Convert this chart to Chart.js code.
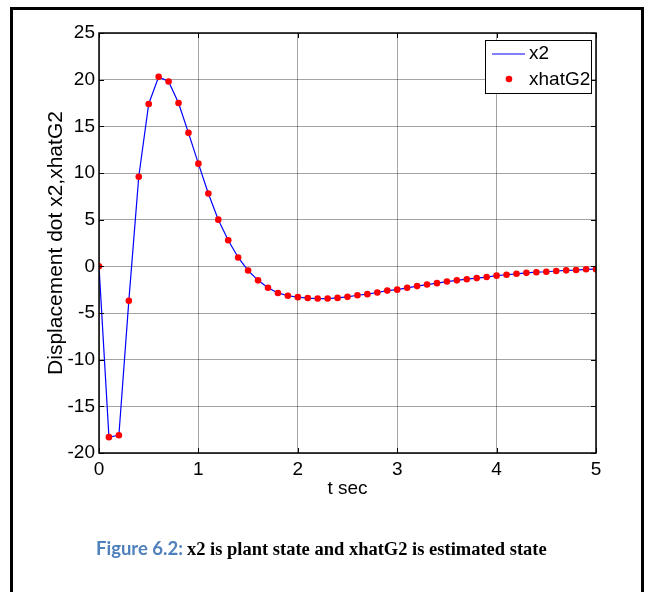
<!DOCTYPE html>
<html>
<head>
<meta charset="utf-8">
<title>x2 and xhatG2</title>
<script src="https://cdn.jsdelivr.net/npm/chart.js@4"></script>
<style>
body{margin:0;background:#fff;}
#frame{position:absolute;left:10px;top:7px;width:634px;height:640px;border:3px solid #000;box-sizing:border-box;}
#canvas{position:absolute;left:0;top:0;}
#caption{position:absolute;left:96px;top:537px;white-space:nowrap;}
#caption .fig{font-family:Lato,"Open Sans",sans-serif;font-weight:bold;font-size:18.5px;color:#4F81BD;}
#caption .txt{font-family:"Liberation Serif","Times New Roman",serif;font-weight:bold;font-size:18.5px;color:#000;}
</style>
</head>
<body>
<div id="frame"></div>
<canvas id="canvas" width="649" height="592"></canvas>
<div id="caption"><span class="fig">Figure 6.2:</span> <span class="txt">x2 is plant state and xhatG2 is estimated state</span></div>
<script>
// time samples (sec)
var tValues = [0,0.1,0.2,0.3,0.4,0.5,0.6,0.7,0.8,0.9,
	1.0,1.1,1.2,1.3,1.4,1.5,1.6,1.7,1.8,1.9,
	2.0,2.1,2.2,2.3,2.4,2.5,2.6,2.7,2.8,2.9,
	3.0,3.1,3.2,3.3,3.4,3.5,3.6,3.7,3.8,3.9,
	4.0,4.1,4.2,4.3,4.4,4.5,4.6,4.7,4.8,4.9,5.0];
// plant state x2
var x2Values = [0,-18.3,-18.1,-3.7,9.6,17.4,20.3,19.8,17.5,14.3,
	11.0,7.8,5.0,2.8,0.95,-0.45,-1.5,-2.3,-2.85,-3.15,
	-3.3,-3.4,-3.45,-3.45,-3.38,-3.27,-3.1,-2.98,-2.8,-2.6,
	-2.5,-2.3,-2.12,-1.95,-1.8,-1.63,-1.5,-1.38,-1.26,-1.15,
	-1.0,-0.9,-0.8,-0.7,-0.63,-0.58,-0.5,-0.43,-0.4,-0.32,-0.3];
// estimated state xhatG2
var xhatG2Values = [0,-18.3,-18.1,-3.7,9.6,17.4,20.3,19.8,17.5,14.3,
	11.0,7.8,5.0,2.8,0.95,-0.45,-1.5,-2.3,-2.85,-3.15,
	-3.3,-3.4,-3.45,-3.45,-3.38,-3.27,-3.1,-2.98,-2.8,-2.6,
	-2.5,-2.3,-2.12,-1.95,-1.8,-1.63,-1.5,-1.38,-1.26,-1.15,
	-1.0,-0.9,-0.8,-0.7,-0.63,-0.58,-0.5,-0.43,-0.4,-0.32,-0.3];
var xTicks = [0,1,2,3,4,5];
var yTicks = [-20,-15,-10,-5,0,5,10,15,20,25];

var fontName = '"Liberation Sans", Arial, sans-serif';
var fontSize = 19;
var lineColor = '#0000ff';
var dotColor = '#ff0000';

function toPoints(xs, ys){
	var pts = new Array();
	for(var i = 0; i < xs.length; i++){
		pts[i] = {x:xs[i], y:ys[i]};
	}
	return pts;
}

// box round the axes plus matlab style inward ticks
var axesBox = {
	id:'axesBox',
	afterDatasetsDraw:function(chart){
		var ctx = chart.ctx;
		var a = chart.chartArea;
		var xs = chart.scales.x;
		var ys = chart.scales.y;
		ctx.save();
		ctx.strokeStyle = '#000';
		ctx.lineWidth = 1;
		ctx.beginPath();
		for(var i = 0; i < xTicks.length; i++){
			var px = Math.round(xs.getPixelForValue(xTicks[i])) + 0.5;
			ctx.moveTo(px, a.bottom); ctx.lineTo(px, a.bottom - 5);
			ctx.moveTo(px, a.top); ctx.lineTo(px, a.top + 5);
		}
		for(var j = 0; j < yTicks.length; j++){
			var py = Math.round(ys.getPixelForValue(yTicks[j])) + 0.5;
			ctx.moveTo(a.left, py); ctx.lineTo(a.left + 5, py);
			ctx.moveTo(a.right, py); ctx.lineTo(a.right - 5, py);
		}
		ctx.stroke();
		ctx.lineWidth = 1.5;
		ctx.strokeRect(a.left, a.top, a.right - a.left, a.bottom - a.top);
		ctx.restore();
	}
};

// legend box in the upper right corner
var legendBox = {
	id:'legendBox',
	afterDraw:function(chart){
		var ctx = chart.ctx;
		var a = chart.chartArea;
		var bx = a.right - 111, by = a.top + 7, bw = 106, bh = 53;
		ctx.save();
		ctx.fillStyle = '#fff';
		ctx.fillRect(bx, by, bw, bh);
		ctx.strokeStyle = '#000';
		ctx.lineWidth = 1;
		ctx.strokeRect(bx + 0.5, by + 0.5, bw, bh);
		var ds = chart.data.datasets;
		ctx.font = fontSize + 'px ' + fontName;
		ctx.textBaseline = 'middle';
		// line item
		ctx.strokeStyle = lineColor;
		ctx.lineWidth = 1.2;
		ctx.beginPath();
		ctx.moveTo(bx + 7, by + 14);
		ctx.lineTo(bx + 40, by + 14);
		ctx.stroke();
		ctx.fillStyle = '#000';
		ctx.fillText(ds[1].label, bx + 44, by + 14);
		// marker item
		ctx.fillStyle = dotColor;
		ctx.beginPath();
		ctx.arc(bx + 24, by + 39, 3.3, 0, Math.PI * 2);
		ctx.fill();
		ctx.fillStyle = '#000';
		ctx.fillText(ds[0].label, bx + 44, by + 40);
		ctx.restore();
	}
};

var gridColor = 'rgba(0,0,0,0.36)';

var config = {
	type:'scatter',
	data:{
		datasets:[
			{
				label:'xhatG2',
				data:toPoints(tValues, xhatG2Values),
				showLine:false,
				pointRadius:3.3,
				pointBackgroundColor:dotColor,
				pointBorderColor:dotColor,
				pointBorderWidth:0
			},
			{
				label:'x2',
				data:toPoints(tValues, x2Values),
				showLine:true,
				borderColor:lineColor,
				borderWidth:1.2,
				pointRadius:0,
				tension:0
			}
		]
	},
	options:{
		responsive:false,
		animation:false,
		events:[],
		layout:{padding:{left:44, top:33, right:53, bottom:92}},
		plugins:{legend:{display:false}, tooltip:{enabled:false}},
		scales:{
			x:{
				type:'linear', min:0, max:5,
				afterFit:function(s){ s.height = 47; },
				afterBuildTicks:function(s){ s.ticks = xTicks.map(function(v){ return {value:v}; }); },
				grid:{color:gridColor, drawTicks:false},
				border:{display:false},
				ticks:{color:'#000', padding:5, font:{family:fontName, size:fontSize}},
				title:{display:true, text:'t sec', color:'#000', padding:0, font:{family:fontName, size:fontSize}}
			},
			y:{
				type:'linear', min:-20, max:25,
				afterFit:function(s){ s.width = 55; },
				afterBuildTicks:function(s){ s.ticks = yTicks.map(function(v){ return {value:v}; }); },
				grid:{color:gridColor, drawTicks:false},
				border:{display:false},
				ticks:{color:'#000', padding:4, font:{family:fontName, size:fontSize}},
				title:{display:true, text:'Displacement dot x2,xhatG2', color:'#000', padding:0, font:{family:fontName, size:21}}
			}
		}
	},
	plugins:[axesBox, legendBox]
};

var canvas = document.getElementById('canvas');
var ctx = canvas.getContext('2d');
var chart = new Chart(ctx, config);
</script>
</body>
</html>
